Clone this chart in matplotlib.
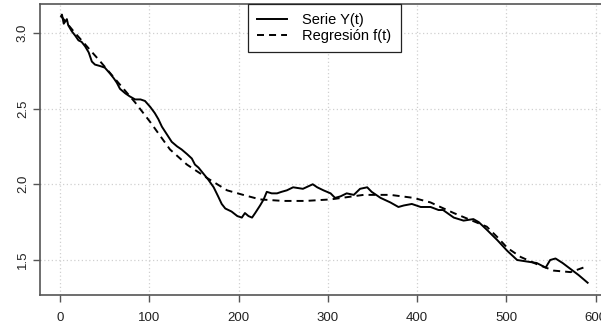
import numpy as np
from matplotlib import pyplot as plt

plt.rcParams['font.family'] = ['Liberation Sans', 'DejaVu Sans']

# serie observada Y(t)
t_serie = [1, 2, 4, 7.5, 9, 13, 17, 20.5, 24, 28, 32, 35.5, 39, 45, 50, 56, 60, 63.5, 67, 73,
           78, 84, 90, 95, 101, 106, 110, 114, 119.5, 125, 131, 136, 142, 147.5, 151, 155,
           160.5, 166, 172, 177, 181, 185, 192, 198.5, 203.5, 207, 211, 215, 218.5, 224,
           228, 231.5, 237, 243, 248, 254, 261, 272, 283, 288, 295, 303, 308, 314, 321,
           329, 336, 344, 349, 359, 370, 379, 385, 394, 404, 415, 424, 429, 441, 452, 463,
           469, 478, 490, 501, 512, 523, 534, 544, 549, 555, 563, 572, 581, 591]
y_serie = [3.11, 3.12, 3.06, 3.09, 3.05, 3.01, 2.98, 2.95, 2.94, 2.91, 2.87, 2.81, 2.79, 2.78,
           2.77, 2.73, 2.70, 2.67, 2.63, 2.60, 2.58, 2.56, 2.56, 2.55, 2.51, 2.47, 2.43, 2.38,
           2.33, 2.28, 2.25, 2.23, 2.20, 2.17, 2.13, 2.11, 2.07, 2.03, 1.98, 1.92, 1.87, 1.84,
           1.82, 1.79, 1.78, 1.81, 1.79, 1.78, 1.81, 1.86, 1.90, 1.95, 1.94, 1.94, 1.95, 1.96,
           1.98, 1.97, 2.00, 1.98, 1.96, 1.94, 1.91, 1.92, 1.94, 1.93, 1.97, 1.98, 1.95, 1.91,
           1.88, 1.85, 1.86, 1.87, 1.85, 1.85, 1.83, 1.83, 1.78, 1.76, 1.77, 1.75, 1.70, 1.63,
           1.56, 1.50, 1.49, 1.48, 1.45, 1.50, 1.51, 1.48, 1.44, 1.40, 1.35]

# regresion f(t)
t_reg = [1, 15, 30, 45, 84, 101, 123, 142, 165, 187, 205, 224, 250, 275, 303, 340, 370, 396,
         415, 426, 441, 478, 490, 501, 516, 535, 553, 572, 591]
y_reg = [3.11, 3.01, 2.91, 2.81, 2.54, 2.41, 2.23, 2.13, 2.04, 1.96, 1.93, 1.90, 1.89, 1.89,
         1.90, 1.93, 1.93, 1.91, 1.88, 1.85, 1.81, 1.72, 1.65, 1.58, 1.52, 1.47, 1.43, 1.42, 1.46]

fig = plt.figure(figsize=(6.01, 3.30), dpi=100)
ax = fig.add_axes([40 / 601, 35 / 330, 568.7 / 601, 291 / 330])

ax.plot(t_serie, y_serie, color='black', lw=1.4, label='Serie Y(t)')
ax.plot(t_reg, y_reg, color='black', lw=1.4, linestyle=(0, (3.6, 2.6)), label='Regresión f(t)')

ax.set_xlim(-22.6, 614.6)
ax.set_ylim(1.269, 3.19)
ax.set_xticks([0, 100, 200, 300, 400, 500, 600])
ax.set_yticks([1.5, 2.0, 2.5, 3.0])
ax.set_yticklabels(['1.5', '2.0', '2.5', '3.0'], rotation=90, va='center')
ax.grid(True, color='#d0d0d0', linestyle=(0, (1, 2)), lw=0.9)
ax.tick_params(length=5, width=1, color='#555555', labelsize=9.5, labelcolor='#222222')
ax.tick_params(axis='x', pad=7)
ax.tick_params(axis='y', pad=3)

for s in ax.spines.values():
    s.set_color('#555555')
    s.set_linewidth(1.2)

leg = ax.legend(loc='upper center', borderaxespad=0, fancybox=False, fontsize=10.5,
                handlelength=2.05, handletextpad=1.05, borderpad=0.62, labelspacing=0.15,
                framealpha=1)
leg.get_frame().set_edgecolor('#222222')
leg.get_frame().set_linewidth(0.9)

fig.savefig('out.png', dpi=100)
